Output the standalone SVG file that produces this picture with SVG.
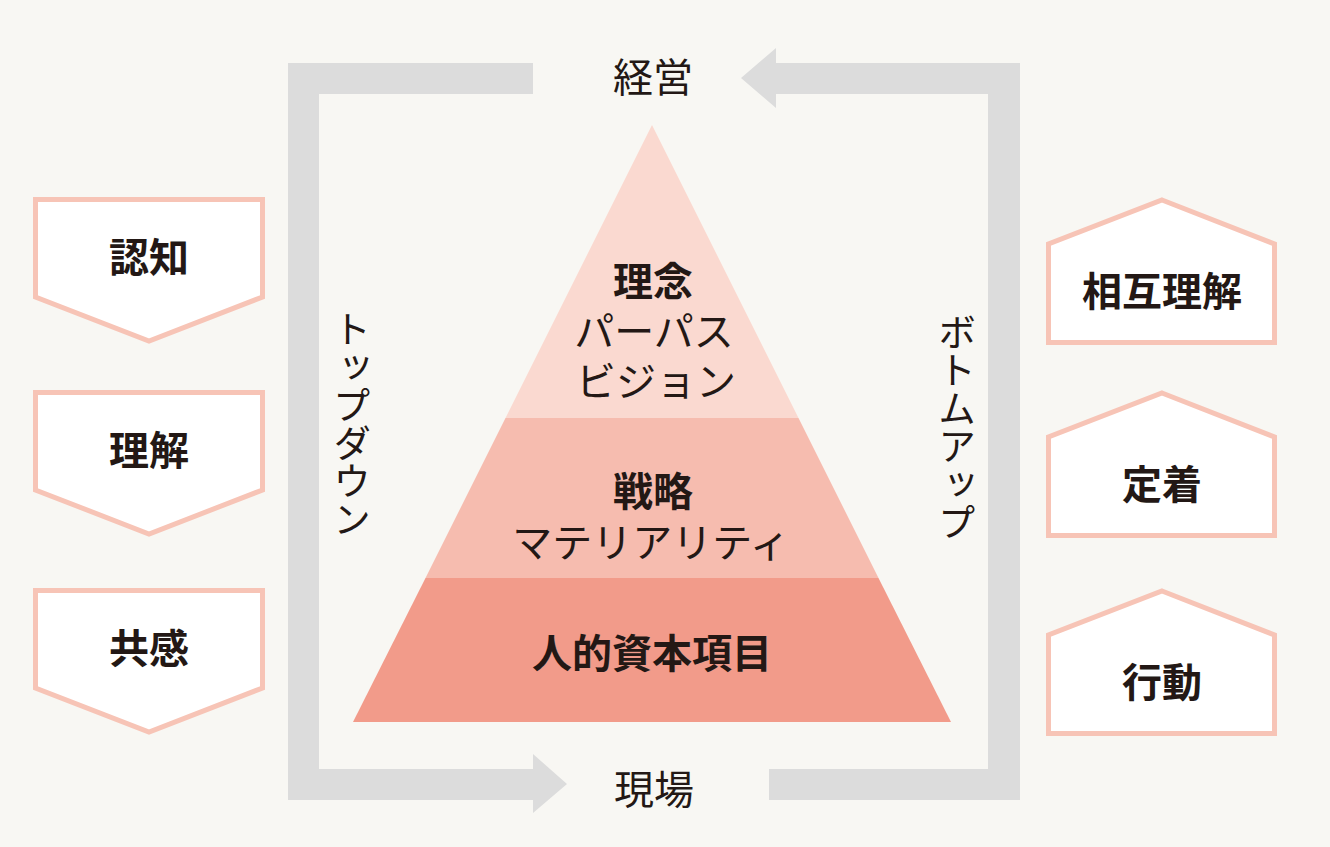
<svg xmlns="http://www.w3.org/2000/svg" width="1330" height="847" viewBox="0 0 1330 847">
<style>
.t{font-family:"Noto Sans CJK JP","Noto Sans",sans-serif;fill:#231815;text-anchor:middle;dominant-baseline:central;font-size:40px}
.b{font-weight:700}
.r{font-weight:400}
.v{font-family:"Noto Sans CJK JP","Noto Sans",sans-serif;fill:#231815;font-size:38px;writing-mode:vertical-rl;dominant-baseline:central}
.box{fill:#ffffff;stroke:#f7c4b6;stroke-width:5}
.arr{fill:#dcdcdc}
</style>
<rect x="0" y="0" width="1330" height="847" fill="#f8f7f3"/>
<g id="connectors">
<polygon class="arr" points="533,63 288,63 288,800 533,800 533,813 567,784 533,754 533,769 319,769 319,94 533,94"/>
<polygon class="arr" points="769,769 988,769 988,94 776,94 776,108 741,78 776,48 776,63 1020,63 1020,800 769,800"/>
<text class="v" x="352" y="310">トップダウン</text>
<text class="v" x="957" y="313">ボトムアップ</text>
</g>
<g id="keiei"><text class="t" x="653" y="75">経営</text></g>
<g id="genba"><text class="t" x="654" y="787">現場</text></g>
<g id="pyramid">
<g id="tier-top">
<polygon points="652,125 798.5,418 505.5,418" fill="#fad9d0"/>
<text class="t"><tspan class="b" x="653" y="279">理念</tspan><tspan class="r" x="654" y="329">パーパス</tspan><tspan class="r" x="656" y="379">ビジョン</tspan></text>
</g>
<g id="tier-mid">
<polygon points="505.5,418 798.5,418 878.5,578 425.5,578" fill="#f6bcaf"/>
<text class="t"><tspan class="b" x="653" y="489">戦略</tspan><tspan class="r" x="651" y="540">マテリアリティ</tspan></text>
</g>
<g id="tier-bottom">
<polygon points="425.5,578 878.5,578 951,722 353,722" fill="#f29b8a"/>
<text class="t b" x="652" y="651">人的資本項目</text>
</g>
</g>
<g id="ninchi">
<polygon class="box" points="35.5,199.5 262.5,199.5 262.5,297 149,341 35.5,297"/>
<text class="t b" x="149" y="255">認知</text>
</g>
<g id="rikai">
<polygon class="box" points="35.5,392.5 262.5,392.5 262.5,490 149,534 35.5,490"/>
<text class="t b" x="149" y="448">理解</text>
</g>
<g id="kyokan">
<polygon class="box" points="35.5,590.5 262.5,590.5 262.5,688 149,732 35.5,688"/>
<text class="t b" x="149" y="646">共感</text>
</g>
<g id="sogorikai">
<polygon class="box" points="1162,200 1274.5,244 1274.5,342.5 1048.5,342.5 1048.5,244"/>
<text class="t b" x="1162" y="289">相互理解</text>
</g>
<g id="teichaku">
<polygon class="box" points="1162,393 1274.5,437 1274.5,535.5 1048.5,535.5 1048.5,437"/>
<text class="t b" x="1162" y="482">定着</text>
</g>
<g id="kodo">
<polygon class="box" points="1162,591 1274.5,635 1274.5,733.5 1048.5,733.5 1048.5,635"/>
<text class="t b" x="1162" y="680">行動</text>
</g>
</svg>
